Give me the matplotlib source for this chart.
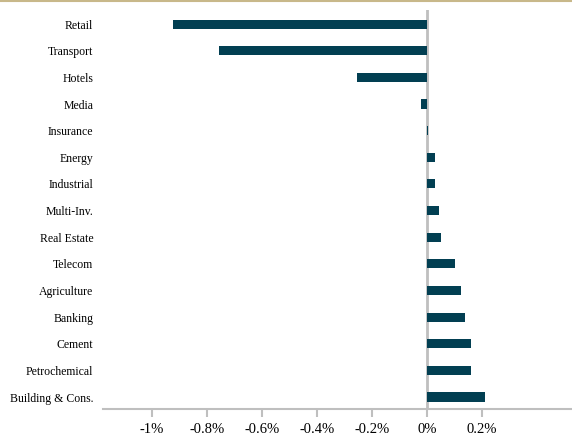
import matplotlib.pyplot as plt
import numpy as np

# sector contributions (%), top to bottom
sectors = ['Retail', 'Transport', 'Hotels', 'Media', 'Insurance', 'Energy', 'Industrial',
           'Multi-Inv.', 'Real Estate', 'Telecom', 'Agriculture', 'Banking', 'Cement',
           'Petrochemical', 'Building & Cons.']
values = [-0.924, -0.756, -0.255, -0.022, 0.004, 0.029, 0.029,
          0.044, 0.051, 0.100, 0.124, 0.138, 0.160, 0.160, 0.210]
xticks = [-1.0, -0.8, -0.6, -0.4, -0.2, 0.0, 0.2]
xtick_labels = ['-1%', '-0.8%', '-0.6%', '-0.4%', '-0.2%', '0%', '0.2%']

plt.rcParams['font.family'] = ['Liberation Serif', 'DejaVu Serif']

fig = plt.figure(figsize=(5.72, 4.37), dpi=100)
ax = fig.add_axes([103 / 572, 28 / 437, 1 - 103 / 572, (409 - 10) / 437])

y = np.arange(len(sectors))
ax.barh(y, values, height=0.34, color='#023f52')
ax.axvline(0, color='#bfbfbf', lw=2, zorder=0)

ax.set_ylim(len(sectors) - 1 + 0.45, -0.53)
ax.set_xlim(-1.178, 0.527)
ax.set_yticks(y)
ax.set_yticklabels(sectors, fontsize=8.5)
ax.set_xticks(xticks)
ax.set_xticklabels(xtick_labels, fontsize=10.5)
ax.tick_params(axis='y', length=0, pad=7)
ax.tick_params(axis='x', length=6, width=1.5, color='#bfbfbf', pad=4)

for s in ['top', 'right', 'left']:
    ax.spines[s].set_visible(False)
ax.spines['bottom'].set_color('#bfbfbf')
ax.spines['bottom'].set_linewidth(1.5)

# thin gold rule along the top
fig.add_artist(plt.Line2D([0, 1], [0.998, 0.998], color='#c8b88a', lw=1.5))

fig.savefig('out.png', dpi=100)
